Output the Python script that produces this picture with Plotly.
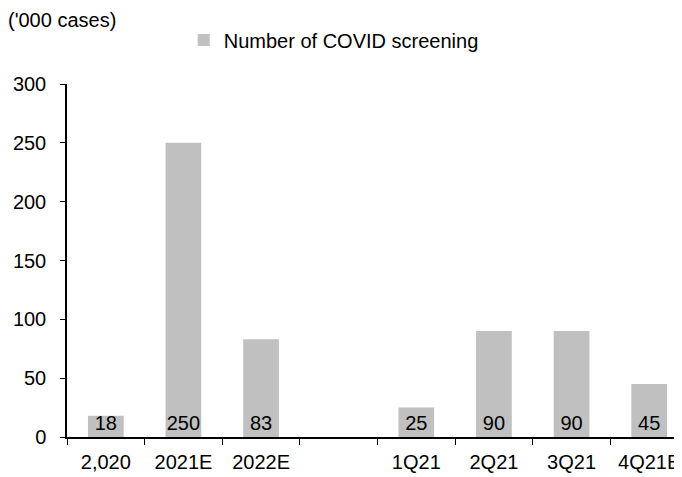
import plotly.graph_objects as go

categories = ["2,020", "2021E", "2022E", " ", "1Q21", "2Q21", "3Q21", "4Q21E"]
values = [18, 250, 83, None, 25, 90, 90, 45]
labels = ["18", "250", "83", "", "25", "90", "90", "45"]
series_name = "Number of COVID screening"
unit_label = "('000 cases)"

FONT = "Liberation Sans, Arial, sans-serif"
FS = 20

fig = go.Figure()
fig.add_trace(go.Bar(
    x=categories, y=values, name=series_name,
    marker=dict(color="#c0c0c0", line=dict(width=0)),
    width=0.46,
    text=labels, textposition="inside", insidetextanchor="start",
    textangle=0, constraintext="none", cliponaxis=False,
    textfont=dict(family=FONT, size=FS, color="#000000"),
    showlegend=True,
))

fig.update_layout(
    width=682, height=477,
    margin=dict(l=59, r=2, t=76, b=48),
    paper_bgcolor="white", plot_bgcolor="white",
    font=dict(family=FONT, size=FS, color="#000000"),
    showlegend=True,
    legend=dict(x=0.188, y=1.1246, xanchor="left", yanchor="middle",
                orientation="h", font=dict(family=FONT, size=FS),
                bgcolor="rgba(0,0,0,0)", borderwidth=0),
    title=dict(text=unit_label, x=0.0, xanchor="left", y=0.975, yanchor="middle",
               font=dict(family=FONT, size=FS)),
)
fig.update_xaxes(
    type="category", showline=True, linecolor="#000000", linewidth=1.5,
    ticks="outside", tickson="boundaries", ticklen=6, tickcolor="#000000",
    showgrid=False, tickfont=dict(family=FONT, size=FS), ticklabelstandoff=6,
)
fig.update_yaxes(
    range=[0, 300], dtick=50, showline=True, linecolor="#000000", linewidth=1.5,
    ticks="outside", ticklen=5, tickcolor="#000000", showgrid=False, zeroline=False,
    tickfont=dict(family=FONT, size=FS), ticklabelstandoff=10,
)

fig.write_html("out.html")
